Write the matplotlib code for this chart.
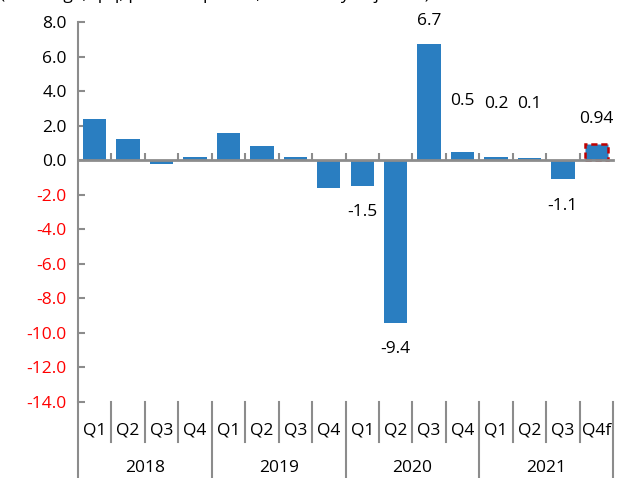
import matplotlib.pyplot as plt
import matplotlib.transforms as mtransforms
import numpy as np

plt.rcParams['font.family'] = ['Open Sans', 'DejaVu Sans']

years = ['2018', '2019', '2020', '2021']
quarters = ['Q1', 'Q2', 'Q3', 'Q4', 'Q1', 'Q2', 'Q3', 'Q4',
            'Q1', 'Q2', 'Q3', 'Q4', 'Q1', 'Q2', 'Q3', 'Q4f']
growth = [2.4, 1.2, -0.2, 0.2, 1.6, 0.8, 0.2, -1.6,
          -1.5, -9.4, 6.7, 0.5, 0.2, 0.1, -1.1, 0.94]
# which bars carry a value label, and the label text
labelled = [8, 9, 10, 11, 12, 13, 14, 15]
label_text = ['-1.5', '-9.4', '6.7', '0.5', '0.2', '0.1', '-1.1', '0.94']
# label offsets from the bar end, in pixels
label_dy = [-26, -26, 23, 51, 53, 54, -27, 25]

bar_color = '#2A7EC1'
axis_color = '#8C8C8C'
fs = 12.5

fig = plt.figure(figsize=(6.17, 4.78), dpi=100)
ax = fig.add_axes([78 / 617, 1 - 402 / 478, 535 / 617, 380 / 478])

x = np.arange(len(growth))
bars = ax.bar(x, growth, width=0.7, color=bar_color, zorder=2)

# forecast quarter gets a dashed red outline
fc = bars[-1]
fc.set_edgecolor('#C00000')
fc.set_linestyle((0, (2.5, 1.5)))
fc.set_linewidth(1.8)

ax.set_xlim(-0.5, len(growth) - 0.5)
ax.set_ylim(-14, 8)
yt = np.arange(-14, 8.1, 2)
ax.set_yticks(yt)
ax.set_yticklabels([f'{v:.1f}' for v in yt], fontsize=fs)
for lbl, v in zip(ax.get_yticklabels(), yt):
    lbl.set_color('red' if v < 0 else 'black')
ax.tick_params(axis='y', direction='in', length=5, width=1.5, color=axis_color, pad=8)

# zero line carries the category boundary ticks
for s in ['top', 'right']:
    ax.spines[s].set_visible(False)
ax.spines['bottom'].set_position(('data', 0))
ax.spines['bottom'].set_color(axis_color)
ax.spines['bottom'].set_linewidth(2)
ax.spines['bottom'].set_zorder(3)
ax.spines['left'].set_color(axis_color)
ax.spines['left'].set_linewidth(1.5)
ax.set_xticks(np.arange(0.5, len(growth) - 0.5, 1))
ax.tick_params(axis='x', direction='in', length=5, width=1.5, color=axis_color,
               labelbottom=False)

for i, txt, dy in zip(labelled, label_text, label_dy):
    ax.annotate(txt, (x[i], growth[i]), xytext=(0, dy), textcoords='offset pixels',
                ha='center', va='center', fontsize=fs)

# two-level category axis below the plot
trans = mtransforms.blended_transform_factory(ax.transData, ax.transAxes)
for i, q in enumerate(quarters):
    ax.text(i, -0.074, q, transform=trans, ha='center', va='center', fontsize=fs)
for b in range(len(quarters) + 1):
    bottom = -0.2 if b % 4 == 0 else -0.105
    ax.plot([b - 0.5, b - 0.5], [0, bottom], transform=trans, color=axis_color,
            lw=1.5, clip_on=False)
for k, yr in enumerate(years):
    ax.text(4 * k + 1.5, -0.174, yr, transform=trans, ha='center', va='center', fontsize=fs)

# units line sits just above the top edge
fig.text(0.0, 1 + 1 / 478, '(% change, q/q, previous period, seasonally adjusted)',
         ha='left', va='baseline', fontsize=fs)

fig.savefig('out.png', dpi=100)
